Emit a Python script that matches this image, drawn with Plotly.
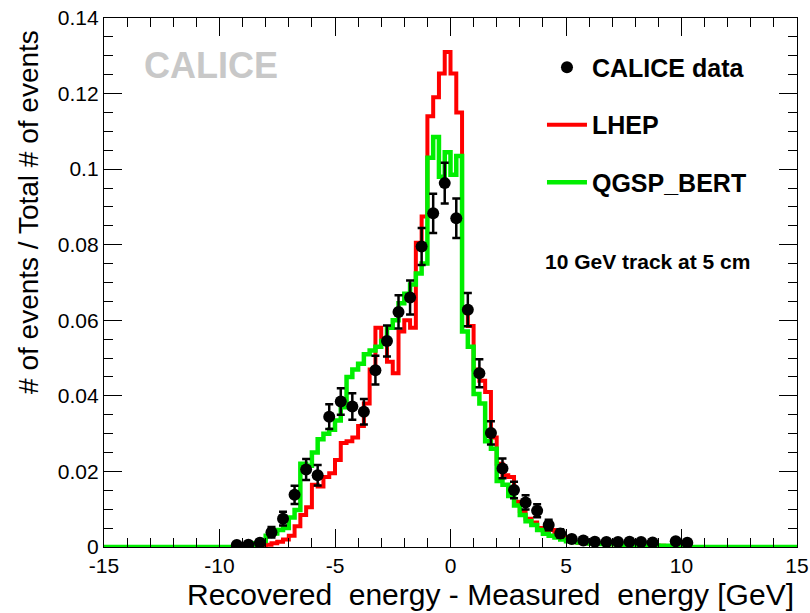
import numpy as np
import plotly.graph_objects as go

# ---- CALICE data: 0.5 GeV bins (bin centres), fraction of events, stat. errors
data_x = [-9.25, -8.75, -8.25, -7.75, -7.25, -6.75, -6.25, -5.75, -5.25, -4.75,
          -4.25, -3.75, -3.25, -2.75, -2.25, -1.75, -1.25, -0.75, -0.25, 0.25,
          0.75, 1.25, 1.75, 2.25, 2.75, 3.25, 3.75, 4.25, 4.75, 5.25,
          5.75, 6.25, 6.75, 7.25, 7.75, 8.25, 8.75, 9.75, 10.25]
data_y = [0.0005, 0.0006, 0.0011, 0.0039, 0.0075, 0.0138, 0.0205, 0.0190, 0.0345, 0.0385,
          0.0372, 0.0358, 0.0468, 0.0545, 0.0622, 0.0660, 0.0795, 0.0883, 0.0963, 0.0870,
          0.0628, 0.0460, 0.0302, 0.0208, 0.0151, 0.0118, 0.0096, 0.0058, 0.0036, 0.0021,
          0.0017, 0.0014, 0.0013, 0.0013, 0.0014, 0.0013, 0.0012, 0.0015, 0.0011]
data_err = [0.0006, 0.0006, 0.0008, 0.0014, 0.0018, 0.0024, 0.0028, 0.0027, 0.0033, 0.0035,
            0.0035, 0.0034, 0.0038, 0.0041, 0.0044, 0.0045, 0.0049, 0.0052, 0.0054, 0.0052,
            0.0044, 0.0037, 0.0031, 0.0026, 0.0022, 0.0019, 0.0017, 0.0014, 0.0011, 0.0008,
            0.0007, 0.0007, 0.0006, 0.0006, 0.0007, 0.0006, 0.0006, 0.0007, 0.0006]

# ---- Simulations: 0.25 GeV bins, first listed bin starts at -10 GeV (all other bins empty)
sim_bin_width = 0.25
sim_first_edge = -10.0
lhep = [0, 0, 0, 0, 0, 0, 0, 0, 0.0006, 0.0010,
        0.0014, 0.0020, 0.0030, 0.0055, 0.0085, 0.0105, 0.0165, 0.0160, 0.0185, 0.0195,
        0.0230, 0.0275, 0.0280, 0.0290, 0.0320, 0.0380, 0.0470, 0.0580, 0.0550, 0.0490,
        0.0460, 0.0570, 0.0600, 0.0580, 0.0805, 0.0875, 0.1140, 0.1190, 0.1253, 0.1310,
        0.1253, 0.1150, 0.0620, 0.0585, 0.0470, 0.0440, 0.0410, 0.0290, 0.0220, 0.0190,
        0.0185, 0.0120, 0.0095, 0.0075, 0.0065, 0.0050, 0.0042, 0.0045, 0.0035, 0.0025,
        0.0017, 0.0013, 0.0011, 0.0010, 0.0009, 0.0008, 0.0008, 0.0007, 0.0007, 0.0006,
        0.0006, 0.0005, 0.0005, 0.0004, 0.0004, 0.0003, 0.0003, 0.0002, 0.0002, 0.0001,
        0.0001, 0, 0, 0]
qgsp_bert = [0, 0, 0, 0.0002, 0.0003, 0.0006, 0.0010, 0.0016, 0.0030, 0.0036,
             0.0045, 0.0050, 0.0078, 0.0098, 0.0220, 0.0215, 0.0250, 0.0285, 0.0300, 0.0310,
             0.0335, 0.0370, 0.0450, 0.0470, 0.0485, 0.0510, 0.0520, 0.0530, 0.0545, 0.0580,
             0.0600, 0.0645, 0.0670, 0.0695, 0.0724, 0.0750, 0.1030, 0.1085, 0.0980, 0.1045,
             0.0985, 0.1035, 0.0570, 0.0530, 0.0405, 0.0380, 0.0280, 0.0260, 0.0175, 0.0165,
             0.0135, 0.0110, 0.0085, 0.0068, 0.0058, 0.0045, 0.0035, 0.0030, 0.0025, 0.0020,
             0.0015, 0.0013, 0.0012, 0.0010, 0.0009, 0.0009, 0.0008, 0.0008, 0.0007, 0.0007,
             0.0006, 0.0006, 0.0005, 0.0005, 0.0004, 0.0004, 0.0003, 0.0003, 0.0002, 0.0002,
             0.0001, 0, 0, 0]

x_ticks = [-15, -10, -5, 0, 5, 10, 15]
x_tick_text = ["-15", "-10", "-5", "0", "5", "10", "15"]
x_range = [-15, 15]
y_range = [0, 0.14]


def full_histogram(values):
    """Step outline over the whole axis range, empty bins outside the listed ones."""
    edges = np.arange(x_range[0], x_range[1] + sim_bin_width / 2, sim_bin_width)
    contents = np.zeros(len(edges) - 1)
    start = int(round((sim_first_edge - x_range[0]) / sim_bin_width))
    contents[start:start + len(values)] = values
    return edges, np.append(contents, contents[-1])


FONT = "Liberation Sans, Arial, Helvetica, sans-serif"

fig = go.Figure()

ex, ey = full_histogram(lhep)
fig.add_trace(go.Scatter(x=ex, y=ey, mode="lines", line=dict(color="#ff0000", width=4, shape="hv"),
                         name="LHEP", legendgroup="b", legendrank=2))
ex, ey = full_histogram(qgsp_bert)
fig.add_trace(go.Scatter(x=ex, y=ey, mode="lines", line=dict(color="#00ee00", width=4.5, shape="hv"),
                         name="QGSP_BERT", legendgroup="c", legendrank=3))
fig.add_trace(go.Scatter(x=data_x, y=data_y, mode="markers",
                         marker=dict(color="black", size=12, symbol="circle"),
                         error_y=dict(type="data", array=data_err, color="black", thickness=2.5, width=4),
                         name="CALICE data", legendgroup="a", legendrank=1))

axis_common = dict(showgrid=False, zeroline=False, showline=True, linecolor="black", linewidth=1.3,
                   mirror="allticks", ticks="inside", tickcolor="black", tickwidth=1.3,
                   automargin=False,
                   tickfont=dict(family=FONT, size=21, color="black"))

fig.update_xaxes(range=x_range, tickvals=x_ticks, ticktext=x_tick_text, ticklen=18,
                 minor=dict(dtick=1, tick0=0, ticks="inside", ticklen=9, tickcolor="black", tickwidth=1.3),
                 **axis_common)
fig.update_yaxes(range=y_range, dtick=0.02, tick0=0, ticklen=18,
                 minor=dict(dtick=0.005, tick0=0, ticks="inside", ticklen=9, tickcolor="black", tickwidth=1.3),
                 **axis_common)

fig.add_annotation(text="CALICE", xref="paper", yref="paper", x=0.154, y=0.91,
                   xanchor="center", yanchor="middle", showarrow=False,
                   font=dict(family=FONT, size=36, color="#c8c8c8", weight="bold"))
fig.add_annotation(text="10 GeV track at 5 cm", xref="paper", yref="paper", x=0.634, y=0.54,
                   xanchor="left", yanchor="middle", showarrow=False,
                   font=dict(family=FONT, size=21, color="black", weight="bold"))
fig.add_annotation(text="Recovered  energy - Measured  energy [GeV]", xref="paper", yref="paper",
                   x=0.998, y=-0.09, xanchor="right", yanchor="middle", showarrow=False,
                   font=dict(family=FONT, size=30, color="black"))
fig.add_annotation(text="# of events / Total # of events", xref="paper", yref="paper",
                   x=-0.11, y=0.633, xanchor="center", yanchor="middle", textangle=-90,
                   showarrow=False, font=dict(family=FONT, size=28, color="black"))

fig.update_layout(
    width=810, height=613,
    margin=dict(l=104, r=13, t=18, b=66, autoexpand=False),
    paper_bgcolor="white", plot_bgcolor="white",
    showlegend=True,
    legend=dict(x=0.632, y=0.95, xanchor="left", yanchor="top", bgcolor="rgba(0,0,0,0)",
                traceorder="grouped", tracegroupgap=22, itemwidth=40,
                font=dict(family=FONT, size=25, color="black", weight="bold")),
)

fig.write_html("out.html")
